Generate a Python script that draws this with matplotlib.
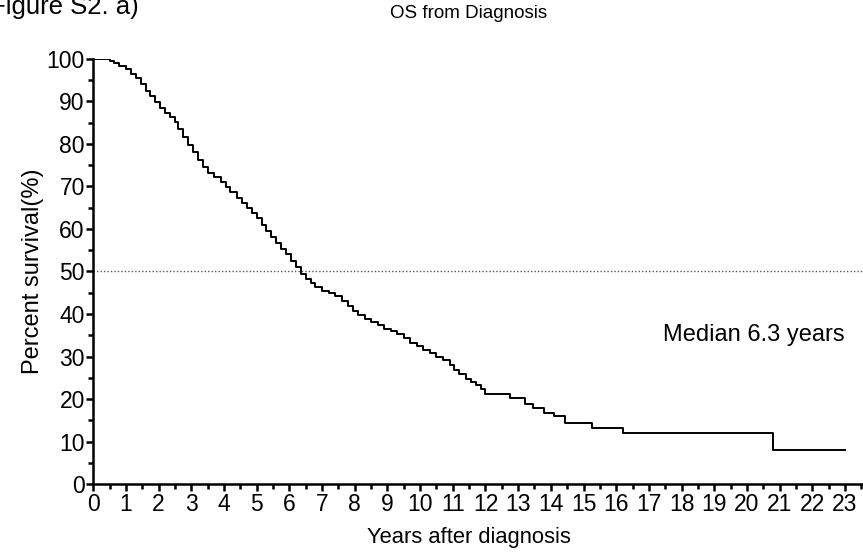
import matplotlib.pyplot as plt
from matplotlib.ticker import MultipleLocator

# Kaplan-Meier step points (years, percent surviving)
years = [0, 0.5, 0.65, 0.8, 1.0, 1.15, 1.3, 1.45, 1.6, 1.75, 1.9, 2.05, 2.2, 2.35,
         2.5, 2.6, 2.75, 2.9, 3.05, 3.2, 3.35, 3.5, 3.7, 3.9, 4.05, 4.2, 4.4, 4.55,
         4.7, 4.85, 5.0, 5.15, 5.3, 5.45, 5.6, 5.75, 5.9, 6.05, 6.2, 6.35, 6.5, 6.65,
         6.8, 7.0, 7.2, 7.4, 7.6, 7.8, 7.95, 8.1, 8.3, 8.5, 8.7, 8.9, 9.1, 9.3, 9.5,
         9.7, 9.9, 10.1, 10.3, 10.5, 10.7, 10.9, 11.05, 11.2, 11.4, 11.55, 11.7, 11.85,
         12.0, 12.75, 13.2, 13.45, 13.8, 14.1, 14.43, 15.26, 16.2, 20.8, 23.0]
survival = [100, 99.5, 99, 98.3, 97.5, 96.5, 95.5, 94, 92.5, 91.3, 89.8, 88.5, 87.3, 86.2,
            85.2, 83.5, 81.5, 79.8, 78, 76.3, 74.6, 73.2, 72.3, 71.0, 69.8, 68.6, 67.3, 66,
            65, 63.7, 62.5, 61, 59.5, 58.2, 56.8, 55.3, 54, 52.5, 51, 49.5, 48.3, 47.3,
            46.3, 45.5, 45, 44.2, 43, 41.8, 40.7, 39.7, 38.8, 38.2, 37.3, 36.4, 36, 35.2, 34.3,
            33.3, 32.4, 31.6, 30.8, 30, 29.2, 27.9, 26.9, 26.0, 24.8, 24, 23.2, 22.3,
            21.3, 20.2, 18.8, 17.8, 16.7, 16.0, 14.3, 13.1, 12.0, 8.0, 8.0]
median_line = 50

plt.rcParams['font.family'] = ['Liberation Sans', 'DejaVu Sans']

fig = plt.figure(figsize=(8.63, 5.54), dpi=100)
ax = fig.add_axes([0.108, 0.126, 0.892, 0.768])

ax.plot(years, survival, drawstyle='steps-post', color='black', lw=1.4)
ax.axhline(median_line, color='#555555', lw=1.0, ls=(0, (1, 1.5)))

ax.set_xlim(0, 23.55)
ax.set_ylim(0, 100)
ax.xaxis.set_major_locator(MultipleLocator(1))
ax.xaxis.set_minor_locator(MultipleLocator(0.5))
ax.yaxis.set_major_locator(MultipleLocator(10))
ax.yaxis.set_minor_locator(MultipleLocator(5))
ax.set_xticks(range(0, 24))

for s in ['top', 'right']:
    ax.spines[s].set_visible(False)
for s in ['left', 'bottom']:
    ax.spines[s].set_linewidth(1.8)
ax.tick_params(which='major', length=5, width=1.8, labelsize=16.5, pad=1)
ax.tick_params(which='minor', length=3.5, width=1.8)

ax.text(23, 35, 'Median 6.3 years', ha='right', va='center', fontsize=17)

ax.set_ylabel('Percent survival(%)', fontsize=17, labelpad=2)
fig.text(0.543, 0.03, 'Years after diagnosis', ha='center', va='center', fontsize=15.8)
fig.text(0.543, 0.975, 'OS from Diagnosis', ha='center', va='center', fontsize=13.5)
fig.text(-0.012, 1 - 14 / 554, 'Figure S2. a)', ha='left', va='baseline', fontsize=18.5)

fig.savefig('out.png', dpi=100)
